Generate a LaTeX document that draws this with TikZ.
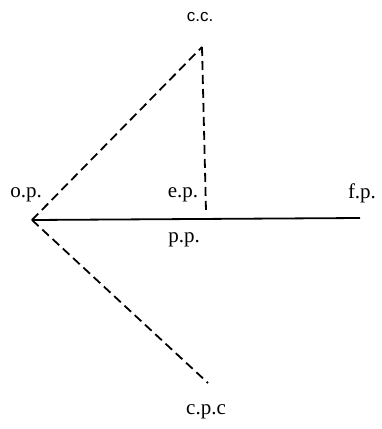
\documentclass[tikz,border=0pt]{standalone}
\usepackage{fontspec}
\setmainfont{Liberation Serif}
\setsansfont{Liberation Sans}
\tikzset{
  lbl/.style={inner sep=0pt, font=\fontsize{21}{24}\selectfont},
  dashline/.style={line width=1.8pt, dash pattern=on 9pt off 5pt},
  solidline/.style={line width=1.8pt}
}
\begin{document}
\begin{tikzpicture}[x=1pt,y=-1pt]
\useasboundingbox (0,0) rectangle (382,429);
\coordinate (op) at (32,220);
\coordinate (cc) at (202,47);
\coordinate (ep) at (206,211);
\coordinate (fp) at (360,218);
\coordinate (cpc) at (208,383);
\draw[solidline] (op) -- (fp);
\draw[dashline] (op) -- (cc);
\draw[dashline] (cc) -- (ep);
\draw[dashline] (op) -- (cpc);
\node[lbl, font=\sffamily\fontsize{17}{20}\selectfont] (lcc) at (200,17) {c.c.};
\node[lbl] (lop) at (26,195) {o.p.};
\node[lbl] (lep) at (183,195) {e.p.};
\node[lbl] (lpp) at (184,240) {p.p.};
\node[lbl] (lfp) at (362,193) {f.p.};
\node[lbl] (lcpc) at (206,412) {c.p.c};
\end{tikzpicture}
\end{document}
